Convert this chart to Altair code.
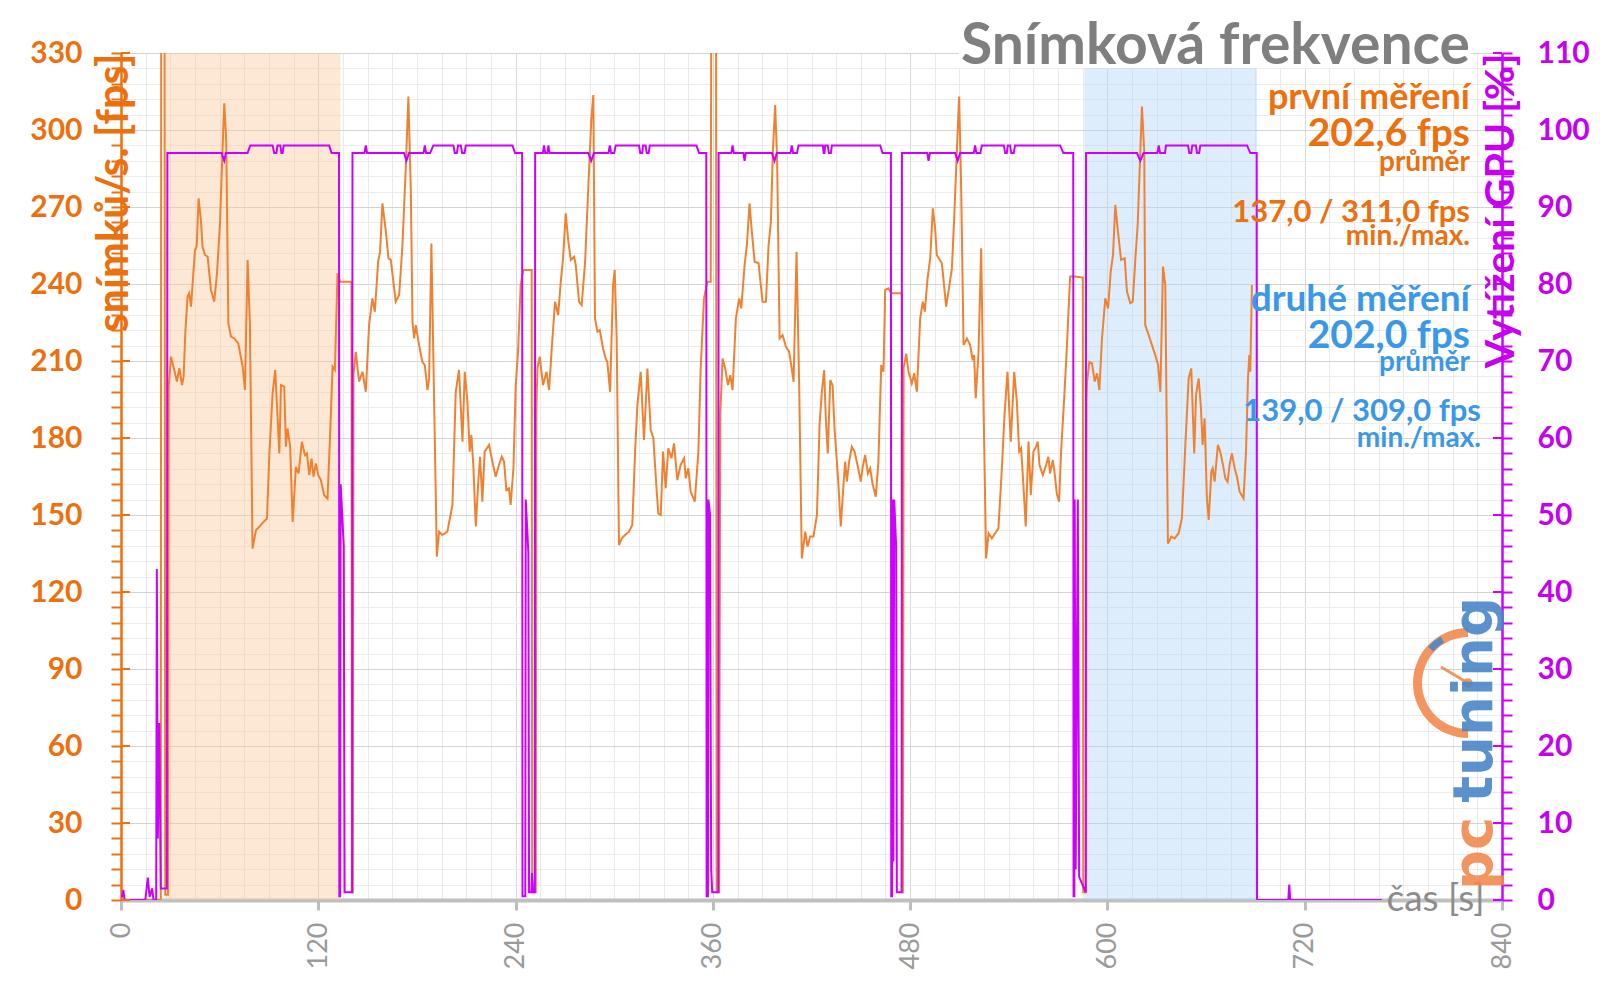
import math
import altair as alt
import pandas as pd

# ------------------------------------------------------------------ data
# frame rate (fps) - time [s] / value pairs
fps_pre_t = [0, 24.2, 24.5, 26.4, 26.9, 28.6, 29.0]
fps_pre_v = [0, 0, 400, 400, 2, 2, 200]

fps_c1_t = [30.4, 32.4, 34.0, 35.5, 37.1, 38.1, 39.1, 40.5, 41.5, 42.6, 44.0, 45.0, 46.0, 47.2, 48.6, 49.6,
            51.1, 52.7, 54.7, 56.7, 58.4, 60.2, 61.6, 62.8, 64.0, 65.3, 66.9, 68.9, 71.3, 74.0, 75.4, 77.0,
            78.4, 80.0, 82.1, 84.1, 86.7, 88.8, 90.2, 92.2, 93.8, 95.2, 96.3, 97.3, 99.3, 100.3, 101.3, 102.9,
            104.4, 106.4, 108.0, 110.0, 111.9, 113.1, 114.5, 115.9, 117.1, 118.5, 120.0, 121.6, 123.6, 125.6,
            127.3, 128.7, 130.1, 131.7, 133.3, 140.2]
fps_c1_v = [211.7, 206.5, 202, 207.2, 200.6, 203.9, 220.8, 235.1, 236.4, 231.2, 244.2, 253.2, 254.5, 273.4,
            264.9, 254.5, 251.3, 250.6, 237.7, 233.1, 244.2, 263.6, 289.6, 310.4, 296.1, 224.7, 219.5, 218.8,
            216.9, 207.8, 198.7, 249.3, 224.7, 136.9, 144.1, 145.4, 147.3, 148.6, 173.3, 197.3, 206.5, 188.3,
            174, 200.6, 200, 176.6, 183.7, 176.6, 147.3, 168.8, 166.2, 178.5, 173.3, 174, 165.5, 172, 164.9,
            170.1, 165.5, 163.6, 157.7, 156.4, 183, 207.8, 206.5, 244.2, 240.9, 240.9]

fps_c2_t = [140.4, 141.0, 141.4, 142.8, 144.8, 146.9, 148.9, 150.9, 152.9, 154.4, 156.4, 157.6, 159.0, 161.1,
            162.7, 164.1, 167.1, 169.2, 171.2, 173.2, 174.8, 176.3, 177.3, 178.3, 179.3, 181.3, 183.3, 184.8,
            186.4, 187.4, 188.8, 190.0, 192.1, 193.5, 195.5, 198.5, 201.6, 203.6, 205.6, 207.7, 209.1, 210.7,
            212.1, 213.1, 214.3, 215.8, 217.2, 218.4, 219.8, 221.2, 223.9, 225.9, 227.9, 229.9, 231.6, 233.0,
            234.4, 236.0, 237.0, 238.7, 240.1, 241.5, 243.1, 244.7, 249.8]
fps_c2_v = [3, 3, 204.5, 213.6, 202, 205.8, 198, 224, 234.4, 229.2, 248.7, 252.6, 271.4, 260.4, 250, 249.4,
            233.1, 235.7, 255.2, 285, 313, 276, 225.3, 218.8, 224, 216.2, 209.7, 208.4, 198.7, 203.2, 255.8,
            211, 133.8, 143.5, 142.2, 143.5, 153.9, 198, 206.5, 178.6, 205.8, 194.2, 174.7, 181.2, 169.5,
            145.5, 161.7, 172.7, 155.2, 174.7, 177.3, 170.8, 164.9, 169.5, 172.7, 170.8, 159.7, 160.4, 153.9,
            168.2, 200.6, 213.6, 239.6, 245.5, 245.5]

fps_c3_t = [250.1, 252.3, 252.6, 253.3, 254.7, 256.7, 258.8, 260.4, 262.0, 264.0, 265.9, 267.5, 268.9, 270.5,
            272.1, 273.6, 275.6, 276.6, 278.6, 280.2, 282.3, 284.3, 286.1, 287.3, 288.3, 289.8, 291.2, 293.2,
            294.8, 295.8, 297.5, 299.3, 300.3, 301.5, 302.9, 304.6, 306.6, 309.0, 311.0, 312.7, 314.1, 316.1,
            318.1, 320.2, 322.2, 323.8, 325.6, 326.8, 328.3, 329.7, 331.3, 332.9, 334.8, 336.4, 338.4, 340.4,
            342.5, 343.5, 345.1, 346.5, 349.0, 351.2, 352.6, 354.6, 356.6, 358.7]
fps_c3_v = [3, 3, 190, 207.1, 211.7, 200.6, 205.8, 198.7, 214.9, 233.1, 227.9, 240.9, 250, 267.5, 256.5,
            249.4, 250.6, 247.4, 233.1, 231.8, 248.7, 278.6, 304.5, 313.6, 226.6, 221.4, 222.1, 214.9, 211,
            209.7, 198, 239.6, 245.5, 218.8, 138.3, 140.9, 142.2, 143.5, 146.1, 174.7, 192.9, 205.8, 179.2,
            207.1, 183.1, 179.9, 161.7, 150.6, 150, 174.7, 160.4, 176, 172.1, 177.9, 163.6, 169.5, 172.1,
            164.3, 168.2, 159.1, 155.2, 174.7, 207.1, 234.4, 240.9, 240.9]

fps_c4_t = [359.2, 361.9, 362.3, 363.8, 364.5, 365.9, 367.5, 369.2, 370.6, 372.0, 374.0, 376.0, 377.3, 379.3,
            380.7, 382.3, 383.7, 385.4, 387.8, 390.2, 392.3, 393.9, 395.3, 396.5, 397.9, 399.1, 400.6, 402.4,
            404.4, 406.4, 407.7, 409.1, 410.9, 412.5, 414.1, 416.2, 417.6, 419.2, 421.2, 423.3, 424.9, 426.3,
            427.7, 428.7, 429.9, 431.4, 432.8, 434.0, 434.8, 436.4, 437.8, 439.5, 440.5, 441.5, 442.9, 444.5,
            446.2, 448.2, 450.0, 451.0, 452.6, 454.3, 455.7, 457.1, 459.1, 460.7, 462.4, 463.8, 464.8, 466.8,
            468.4, 475.0]
fps_c4_v = [400, 400, 3, 3, 189, 211, 207.1, 200.6, 204.5, 198.7, 226.6, 234.4, 230.5, 247.4, 255.2, 271.4,
            260.4, 248.7, 248.1, 233.1, 233.1, 255.2, 264.3, 291.6, 309.7, 287.7, 218.8, 220.1, 215.6, 213.6,
            208.4, 201.9, 252.6, 200.6, 133.1, 143.5, 137.7, 141.6, 141.6, 150, 185.1, 198, 206.5, 187.7, 174,
            202.6, 200.6, 183.8, 176.6, 161.7, 145.5, 162.3, 170.8, 163, 170.8, 176.6, 174.7, 168.8, 163, 168.2,
            173.4, 166.2, 168.2, 162.3, 157.1, 170.8, 208.4, 205.8, 237.7, 238.3, 236.4, 236.4]

fps_c5_t = [475.3, 475.6, 476.0, 477.6, 479.0, 481.0, 482.5, 484.1, 486.1, 487.7, 488.9, 490.6, 492.2, 493.8,
            495.2, 496.2, 499.3, 501.9, 503.9, 505.4, 506.8, 508.4, 509.8, 511.0, 512.5, 514.5, 516.5, 517.9,
            518.9, 519.9, 521.6, 523.2, 524.6, 526.2, 527.7, 529.7, 531.7, 533.7, 535.8, 537.4, 539.2, 541.2,
            543.3, 544.9, 546.3, 547.5, 548.9, 550.3, 552.0, 553.4, 555.0, 556.6, 557.6, 558.7, 560.7, 562.7,
            564.1, 565.1, 566.8, 568.0, 569.2, 570.6, 571.8, 573.7, 575.3, 577.3, 580.3, 585.0]
fps_c5_v = [3, 3, 207.1, 212.9, 205.8, 201.3, 205.2, 198, 226.6, 233.1, 229.2, 242.2, 250, 269.5, 261.7,
            251.3, 248.1, 231.2, 239.6, 246.1, 265.6, 291.6, 313, 278.6, 216.2, 218.8, 216.2, 211, 212.3,
            195.5, 213.6, 253.9, 194.2, 133.1, 142.9, 140.9, 142.9, 144.8, 168.2, 189, 205.8, 178.6, 205.8,
            194.2, 174.7, 176, 161.7, 145.5, 178.6, 157.8, 174.7, 176.6, 178.6, 169.5, 165.6, 169.5, 172.7,
            166.2, 171.4, 165.6, 158.4, 155.2, 174.7, 195.5, 214.9, 242.9, 242.9, 242.5]

fps_c6_t = [585.3, 587.0, 587.3, 587.6, 589.0, 590.6, 592.3, 593.7, 595.1, 596.7, 598.7, 600.4, 602.0, 603.4,
            604.8, 606.4, 608.3, 610.5, 611.9, 613.9, 615.4, 617.0, 618.4, 620.0, 621.0, 622.4, 623.0, 625.1,
            627.1, 629.1, 630.8, 632.2, 633.8, 635.2, 636.8, 638.9, 640.9, 643.3, 645.3, 647.4, 649.4, 651.0,
            652.8, 653.9, 655.5, 656.9, 657.9, 659.1, 660.5, 661.6, 663.2, 664.0, 665.2, 667.2, 668.6, 670.3,
            671.7, 673.1, 674.3, 675.7, 677.4, 678.8, 680.4, 682.8, 684.3, 685.5, 686.3, 686.9, 687.9]
fps_c6_v = [3, 3, 195, 202, 209.7, 209.1, 202, 205.2, 198.7, 218.8, 234.4, 230.5, 244.8, 251.3, 270.8,
            260.4, 249.4, 250, 237, 232.5, 233.1, 250, 263, 291.6, 309.1, 291.6, 224, 220.1, 216.2, 212.3,
            208.4, 198, 246.8, 239.6, 138.9, 141.6, 140.9, 142.9, 148.7, 177.3, 203.2, 207.1, 174, 196.8,
            203.2, 191.6, 177.3, 187.7, 156.5, 148.1, 166.9, 168.2, 163, 177.3, 174.7, 169.5, 164.3, 163,
            169.5, 174, 168.2, 164.9, 159.1, 156.5, 174.7, 203.2, 212.3, 205.8, 239.6]

# GPU load (%)
gpu_pre_t = [0, 0.8, 1.4, 2.2, 14.8, 16.3, 17.4, 18.9, 19.8, 21.4, 21.8, 22.4, 23.3, 24.2, 27.9, 28.2]
gpu_pre_v = [0.5, 0.5, 1.3, 0, 0, 2.9, 0.4, 1.5, 0, 0, 43, 8, 23, 1.5, 1.5, 97]
gpu_c1_t = [61.2, 62.8, 63.8, 77.0, 78.6, 92.2, 93.2, 94.5, 95.2, 96.9, 97.6, 98.3, 98.9, 126.6, 128.1,
            132.6, 132.8, 133.3, 133.6, 135.5, 136.0, 140.6]
gpu_c1_v = [97, 96, 97, 97, 98, 98, 97, 97, 98, 98, 97, 97, 98, 98, 97, 97, 0.5, 0.5, 54, 46, 1, 1]
gpu_c2_t = [140.8, 148.1, 148.9, 149.7, 172.2, 173.6, 175.2, 184.0, 184.8, 185.6, 188.0, 190.0, 202.2, 203.0,
            204.3, 205.0, 206.7, 207.5, 209.0, 209.7, 238.1, 239.7, 244.0, 244.2, 245.9, 246.2, 247.8, 248.2,
            249.6, 250.0, 250.6, 251.7]
gpu_c2_v = [97, 97, 98, 97, 97, 96, 97, 97, 98, 97, 97, 98, 98, 97, 97, 98, 98, 97, 97, 98, 98, 97, 97, 0.5,
            0.5, 52, 45, 1, 1, 3.5, 1, 1]
gpu_c3_t = [251.9, 256.6, 257.3, 258.0, 259.3, 260.0, 260.7, 284.3, 286.0, 287.7, 296.5, 297.3, 298.1, 300.0,
            300.9, 315.1, 315.8, 317.0, 317.5, 319.1, 319.8, 321.0, 321.6, 350.0, 351.6, 356.0, 356.2, 357.0,
            357.3, 358.3, 358.6, 359.0, 359.6, 363.3]
gpu_c3_v = [97, 97, 98, 97, 97, 98, 97, 97, 96, 97, 97, 98, 97, 97, 98, 98, 97, 97, 98, 98, 97, 97, 98, 98,
            97, 97, 0.5, 0.5, 52, 50, 26, 4, 1, 1]
gpu_c4_t = [363.5, 371.2, 372.0, 372.8, 378.6, 379.3, 380.0, 396.0, 397.5, 398.9, 407.2, 408.0, 408.8, 411.2,
            412.1, 426.9, 427.4, 427.9, 428.3, 429.9, 430.6, 431.8, 432.4, 461.8, 463.2, 468.3, 468.5, 469.0,
            469.2, 469.8, 470.3, 471.5, 471.9, 474.8]
gpu_c4_v = [97, 97, 98, 97, 97, 96, 97, 97, 96, 97, 97, 98, 97, 97, 98, 98, 97, 97, 98, 98, 97, 97, 98, 98,
            97, 97, 0.5, 0.5, 52, 5, 52, 46, 1, 1]
gpu_c5_t = [475.0, 490.4, 491.2, 492.0, 507.4, 508.9, 510.4, 518.7, 519.5, 520.3, 522.7, 523.6, 537.0, 537.8,
            538.8, 539.4, 540.8, 541.5, 543.0, 543.8, 571.2, 573.2, 579.2, 579.4, 579.9, 580.1, 580.7, 582.0,
            582.8, 586.8]
gpu_c5_v = [97, 97, 96, 97, 97, 96, 97, 97, 98, 97, 97, 98, 98, 97, 97, 98, 98, 97, 97, 98, 98, 97, 97, 0.5,
            0.5, 52, 4, 52, 3, 1]
gpu_c6_t = [587.0, 618.0, 620.0, 622.0, 630.4, 631.2, 632.0, 635.0, 635.6, 649.0, 649.8, 651.0, 651.6, 653.8,
            654.5, 655.8, 656.5, 684.9, 686.9, 690.8, 691.0, 710.0, 710.6, 711.2, 767.0]
gpu_c6_v = [97, 97, 96, 97, 97, 98, 97, 97, 98, 98, 97, 97, 98, 98, 97, 97, 98, 98, 97, 97, 0, 0, 2, 0, 0]

# highlighted measurement windows [s]
band1 = [26.8, 133.4]   # první měření
band2 = [586.0, 691.0]  # druhé měření

x_ticks = list(range(0, 841, 15))
y_ticks = list(range(0, 331, 6))
y_major = list(range(0, 331, 30))
y2_ticks = list(range(0, 111, 2))
y2_major = list(range(0, 111, 10))

title_text = "Snímková frekvence"
first_texts = ["první měření", "202,6 fps", "průměr", "137,0 / 311,0 fps", "min./max."]
second_texts = ["druhé měření", "202,0 fps", "průměr", "139,0 / 309,0 fps", "min./max."]
logo_texts = ["tuning", "pc"]

# ------------------------------------------------------------------ build tables
fps_t = fps_pre_t + fps_c1_t + fps_c2_t + fps_c3_t + fps_c4_t + fps_c5_t + fps_c6_t
fps_v = fps_pre_v + fps_c1_v + fps_c2_v + fps_c3_v + fps_c4_v + fps_c5_v + fps_c6_v
gpu_t = gpu_pre_t + gpu_c1_t + gpu_c2_t + gpu_c3_t + gpu_c4_t + gpu_c5_t + gpu_c6_t
gpu_v = gpu_pre_v + gpu_c1_v + gpu_c2_v + gpu_c3_v + gpu_c4_v + gpu_c5_v + gpu_c6_v

fps_df = pd.DataFrame({"t": fps_t, "v": fps_v, "i": range(len(fps_t))})
gpu_df = pd.DataFrame({"t": gpu_t, "v": gpu_v, "i": range(len(gpu_t))})
bands_df = pd.DataFrame({"s": [band1[0], band2[0]], "e": [band1[1], band2[1]], "k": ["a", "b"]})

# ------------------------------------------------------------------ style
W, H = 1381, 847
FONT = "Lato"
ORANGE = "#EC700E"
ORANGE_LINE = "#EF8232"
MAGENTA = "#CC00FF"
MAGENTA_TXT = "#C800F0"
BLUE = "#3A98E8"
GRAY_TXT = "#7F7F7F"

xs = alt.Scale(domain=[0, 840], nice=False, zero=False)
ys = alt.Scale(domain=[0, 330], nice=False, zero=True)
y2s = alt.Scale(domain=[0, 110], nice=False, zero=True)

x_axis = alt.Axis(
    values=x_ticks,
    labelExpr="datum.value % 120 === 0 ? datum.label : ''",
    format="d",
    grid=True,
    gridColor={"condition": {"test": "datum.value % 120 === 0", "value": "#D9D9D9"}, "value": "#EAEAEA"},
    gridWidth=1,
    tickSize={"condition": {"test": "datum.value % 120 === 0", "value": 10}, "value": 0},
    tickColor="#BDBDBD",
    tickWidth=3,
    domainColor="#BFBFBF",
    domainWidth=4,
    labelAngle=270,
    labelColor="#9A9A9A",
    labelFont=FONT,
    labelFontSize=27,
    labelPadding=12,
    labelOverlap=False,
    labelFlush=False,
    title="čas [s]",
    titleX=1265,
    titleY=10,
    titleAlign="left",
    titleBaseline="alphabetic",
    titleAngle=0,
    titleColor="#8C8C8C",
    titleFont=FONT,
    titleFontSize=37,
    titleFontWeight="normal",
)
X = alt.X("t:Q", scale=xs, axis=x_axis)

y_axis = alt.Axis(
    orient="left",
    values=y_ticks,
    labelExpr="datum.value % 30 === 0 ? datum.label : ''",
    format="d",
    grid=True,
    gridColor={"condition": {"test": "datum.value % 30 === 0", "value": "#D4D4D4"}, "value": "#EDEDED"},
    gridWidth=1,
    tickSize=10,
    tickColor=ORANGE,
    tickWidth=2,
    domainColor=ORANGE,
    domainWidth=2.5,
    labelColor=ORANGE,
    labelFont=FONT,
    labelFontSize=30,
    labelFontWeight="bold",
    labelPadding=29,
    labelOverlap=False,
    labelFlush=False,
    title="snímků/s. [fps]",
    titleColor=ORANGE,
    titleFont=FONT,
    titleFontSize=43,
    titleFontWeight="bold",
    titleAngle=270,
    titleX=6,
    titleY=0,
    titleAlign="right",
    titleBaseline="alphabetic",
)
y2_axis = alt.Axis(
    orient="right",
    values=y2_ticks,
    labelExpr="datum.value % 10 === 0 ? datum.label : ''",
    format="d",
    grid=False,
    tickSize=10,
    tickColor=MAGENTA,
    tickWidth=2,
    domainColor=MAGENTA,
    domainWidth=2.5,
    labelColor=MAGENTA_TXT,
    labelFont=FONT,
    labelFontSize=30,
    labelFontWeight="bold",
    labelPadding=25,
    labelOverlap=False,
    labelFlush=False,
    title="Vytížení GPU [%]",
    titleColor=MAGENTA_TXT,
    titleFont=FONT,
    titleFontSize=41,
    titleFontWeight="bold",
    titleAngle=270,
    titleX=11,
    titleY=0,
    titleAlign="right",
    titleBaseline="alphabetic",
)

# ------------------------------------------------------------------ layers
bands = alt.Chart(bands_df).mark_rect(opacity=0.42).encode(
    x=alt.X("s:Q", scale=xs, axis=x_axis),
    x2="e:Q",
    y=alt.value(0),
    y2=alt.value(H),
    color=alt.Color("k:N", scale=alt.Scale(domain=["a", "b"], range=["#FAC89A", "#B0D4F5"]), legend=None),
)

# white plate behind the chart title
title_plate = alt.Chart(pd.DataFrame({"a": [0]})).mark_rect(color="white").encode(
    x=alt.value(838), x2=alt.value(1350), y=alt.value(-35), y2=alt.value(15)
)

fps_line = alt.Chart(fps_df).mark_line(color=ORANGE_LINE, strokeWidth=2, clip=True).encode(
    x=X,
    y=alt.Y("v:Q", scale=ys, axis=y_axis),
    order="i:Q",
)

gpu_line = alt.Chart(gpu_df).mark_line(color=MAGENTA, strokeWidth=2, clip=True).encode(
    x=X,
    y=alt.Y("v:Q", scale=y2s, axis=y2_axis),
    order="i:Q",
)

# inner halves of the major ticks (they cross the axis lines)
left_major = alt.Chart(pd.DataFrame({"v": y_major})).mark_rule(color=ORANGE, strokeWidth=2).encode(
    y=alt.Y("v:Q", scale=ys, axis=None), x=alt.value(0), x2=alt.value(9)
)
right_major = alt.Chart(pd.DataFrame({"v": y2_major})).mark_rule(color=MAGENTA, strokeWidth=2).encode(
    y=alt.Y("v:Q", scale=y2s, axis=None), x=alt.value(W - 9), x2=alt.value(W)
)


def label(txt, xp, yp, size, color, weight="bold", align="right", angle=0, opacity=1.0, font=FONT):
    return alt.Chart(pd.DataFrame({"txt": [txt]})).mark_text(
        align=align, baseline="alphabetic", font=font, fontSize=size, fontWeight=weight,
        color=color, angle=angle, opacity=opacity,
    ).encode(x=alt.value(xp), y=alt.value(yp), text="txt:N")


texts = [
    label(title_text, 1349, 11, 57, GRAY_TXT),
    label(first_texts[0], 1349, 56, 36, ORANGE),
    label(first_texts[1], 1349, 93, 39, ORANGE),
    label(first_texts[2], 1349, 118, 28, ORANGE),
    label(first_texts[3], 1349, 169, 31, ORANGE),
    label(first_texts[4], 1349, 192, 28, ORANGE),
    label(second_texts[0], 1349, 258, 37, BLUE),
    label(second_texts[1], 1349, 295, 39, BLUE),
    label(second_texts[2], 1349, 318, 28, BLUE),
    label(second_texts[3], 1360, 368, 31, BLUE),
    label(second_texts[4], 1360, 394, 28, BLUE),
]

# pctuning watermark (logo approximation)
LOGO_O = "#F28A4E"
LOGO_B = "#4A86C8"
logo_cx, logo_cy = 1347, 630
logo = [
    alt.Chart(pd.DataFrame({"a": [0]})).mark_arc(
        theta=math.pi, theta2=2 * math.pi, radius=55, radius2=46, color=LOGO_O, opacity=0.9
    ).encode(x=alt.value(logo_cx), y=alt.value(logo_cy)),
    alt.Chart(pd.DataFrame({"a": [0]})).mark_arc(
        theta=5.45, theta2=5.75, radius=54, radius2=47, color=LOGO_B, opacity=0.9
    ).encode(x=alt.value(logo_cx), y=alt.value(logo_cy)),
    alt.Chart(pd.DataFrame({"a": [0]})).mark_rule(color=LOGO_O, strokeWidth=3, opacity=0.9).encode(
        x=alt.value(logo_cx), x2=alt.value(logo_cx - 27), y=alt.value(logo_cy), y2=alt.value(logo_cy - 16)
    ),
    alt.Chart(pd.DataFrame({"a": [0]})).mark_point(filled=True, size=90, color=LOGO_O, opacity=0.9).encode(
        x=alt.value(logo_cx), y=alt.value(logo_cy)
    ),
    label(logo_texts[0], 1371, 544, 56, LOGO_B, align="right", angle=270, opacity=0.9, font="DejaVu Sans"),
    label(logo_texts[1], 1371, 837, 56, LOGO_O, align="left", angle=270, opacity=0.9, font="DejaVu Sans"),
]

chart = alt.layer(
    bands, title_plate, fps_line, gpu_line, left_major, right_major, *texts, *logo
).resolve_scale(
    y="independent"
).properties(
    width=W,
    height=H,
    padding={"left": 113, "top": 45, "right": 88, "bottom": 80},
    autosize=alt.AutoSizeParams(type="none"),
    background="white",
).configure_view(stroke=None)

chart.save("out.html", embed_options={"renderer": "svg", "actions": False})
